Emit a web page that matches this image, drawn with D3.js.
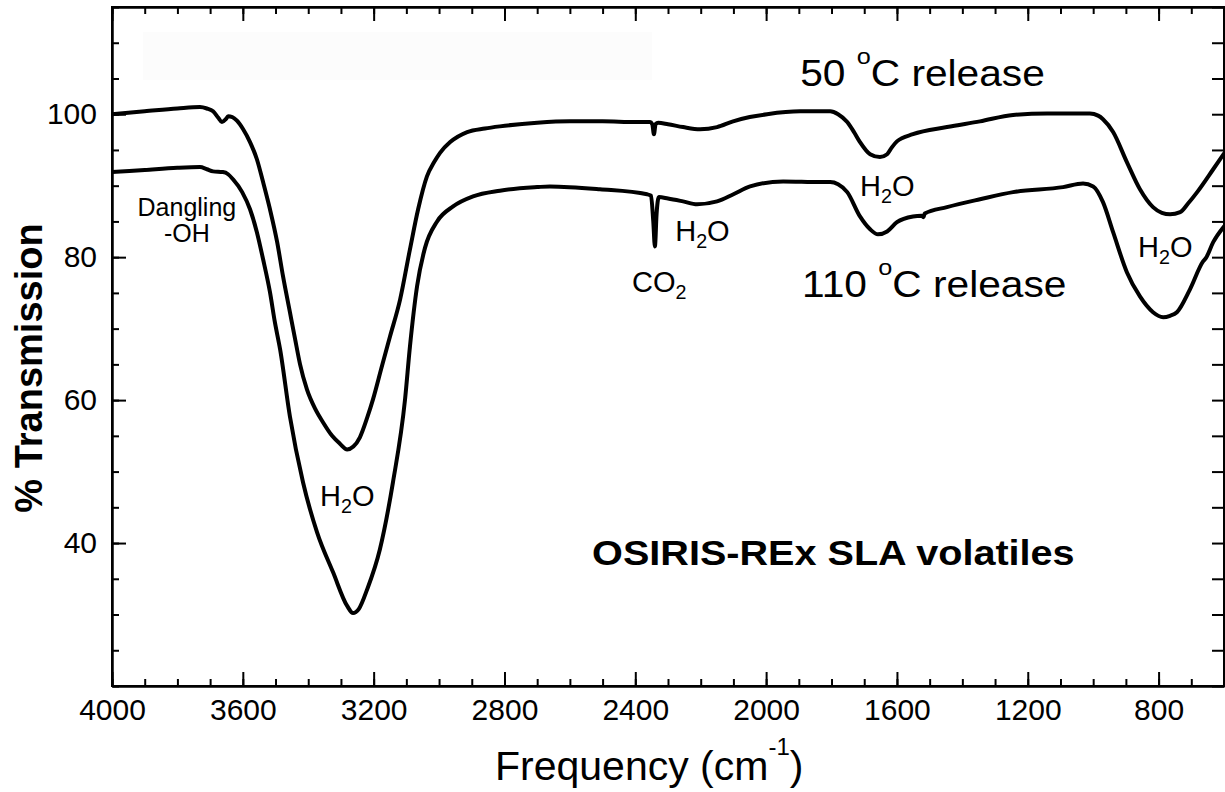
<!DOCTYPE html>
<html>
<head>
<meta charset="utf-8">
<script src="https://cdn.jsdelivr.net/npm/d3@7"></script>
<style>
  html, body { margin: 0; padding: 0; background: #fff; }
  svg { display: block; font-family: "Liberation Sans", Arial, Helvetica, sans-serif; }
  .axis .domain { stroke: #000; stroke-width: 2; }
  .axis .tick line { stroke: #000; stroke-width: 2; }
  .axis .tick text { font-size: 30px; fill: #000; font-family: "Liberation Sans", Arial, sans-serif; }
</style>
</head>
<body>
<svg id="chart" width="1225" height="792"></svg>
<script>
// ---------------- data ----------------
const waveNum50 = [4000, 3900, 3800, 3731, 3710, 3691, 3675, 3664, 3652, 3645, 3632, 3618, 3599, 3578, 3557, 3538, 3517, 3495, 3477, 3456, 3440, 3425, 3404, 3379, 3355, 3327, 3303, 3281, 3262, 3242, 3220, 3202, 3175, 3150, 3119, 3089, 3064, 3037, 3015, 2997, 2966, 2914, 2860, 2814, 2700, 2600, 2500, 2400, 2355, 2348, 2343, 2338, 2330, 2300, 2254, 2202, 2150, 2101, 2050, 1997, 1896, 1835, 1804, 1780, 1752, 1730, 1713, 1682, 1652, 1630, 1615, 1600, 1551, 1447, 1346, 1245, 1141, 1010, 985, 970, 939, 897, 857, 817, 790, 765, 734, 710, 682, 633, 600];
const trans50   = [100.0, 100.4, 100.8, 101.0, 100.8, 100.4, 99.5, 98.9, 99.3, 99.7, 99.6, 99.1, 97.9, 96.1, 93.7, 90.5, 86.7, 82.1, 77.3, 72.3, 68.5, 65.0, 61.5, 58.8, 56.9, 55.0, 53.9, 53.1, 53.5, 54.8, 57.5, 60.1, 64.7, 68.9, 74.1, 81.1, 86.7, 91.3, 93.3, 94.6, 96.1, 97.5, 98.0, 98.3, 98.8, 99.0, 99.0, 98.9, 98.9, 98.6, 97.2, 98.6, 98.8, 98.6, 98.2, 97.9, 98.2, 99.0, 99.6, 100.0, 100.4, 100.4, 100.4, 100.0, 98.9, 97.4, 96.1, 94.4, 94.0, 94.4, 95.4, 96.2, 97.2, 98.2, 99.0, 99.9, 100.1, 100.1, 99.8, 99.3, 97.5, 93.3, 89.5, 87.0, 86.2, 86.0, 86.3, 87.5, 89.1, 92.3, 94.5];

const waveNum110 = [4000, 3900, 3800, 3731, 3710, 3691, 3661, 3645, 3630, 3602, 3578, 3557, 3538, 3517, 3502, 3486, 3456, 3416, 3373, 3324, 3281, 3263, 3245, 3220, 3181, 3141, 3104, 3089, 3067, 3043, 3006, 2957, 2896, 2814, 2700, 2661, 2508, 2364, 2352, 2345, 2340, 2335, 2328, 2300, 2254, 2211, 2150, 2100, 2049, 1948, 1835, 1804, 1780, 1752, 1713, 1682, 1658, 1630, 1600, 1551, 1525, 1519, 1515, 1447, 1346, 1245, 1092, 1031, 1000, 970, 939, 897, 857, 817, 786, 765, 744, 704, 664, 655, 633, 600];
const trans110   = [91.9, 92.2, 92.5, 92.6, 92.3, 92.0, 91.9, 91.6, 90.9, 89.1, 86.7, 83.5, 79.7, 75.1, 70.9, 67.1, 57.7, 48.5, 41.5, 35.9, 31.2, 30.2, 30.8, 33.5, 39.1, 48.5, 60.1, 67.5, 76.0, 81.3, 85.0, 87.1, 88.5, 89.3, 89.8, 89.9, 89.5, 88.8, 88.6, 85.0, 81.5, 86.0, 88.4, 88.2, 87.8, 87.4, 87.8, 88.8, 89.9, 90.6, 90.5, 90.5, 90.2, 89.1, 85.7, 83.9, 83.2, 83.6, 84.9, 85.7, 85.8, 85.6, 86.1, 87.0, 88.1, 89.1, 89.8, 90.3, 89.9, 87.7, 83.5, 77.9, 74.5, 72.3, 71.6, 71.8, 72.3, 75.5, 79.4, 79.9, 82.1, 84.3];

const xMajorTicks = [4000, 3600, 3200, 2800, 2400, 2000, 1600, 1200, 800];
const xMinorTicks = d3.range(4000, 599, -100);
const yMajorTicks = [40, 60, 80, 100];
const yMinorTicks = d3.range(20, 116, 5);

// ---------------- layout ----------------
const svg = d3.select("#chart");
const L = 112, R = 1224, T = 7, B = 686;
const x = d3.scaleLinear().domain([4000, 600]).range([L, R]);
const y = d3.scaleLinear().domain([20, 115]).range([B, T]);

svg.append("rect").attr("width", 1225).attr("height", 792).attr("fill", "#fff");
// faint artefact box seen in the reference
svg.append("rect").attr("x", 143).attr("y", 32).attr("width", 509).attr("height", 48).attr("fill", "#fcfcfc");

svg.append("clipPath").attr("id", "plotclip")
  .append("rect").attr("x", L).attr("y", T).attr("width", R - L).attr("height", B - T);

// ---------------- curves ----------------
const line = d3.line()
  .x(d => x(d[0])).y(d => y(d[1]))
  .curve(d3.curveMonotoneX);

const series = [
  d3.zip(waveNum50, trans50),
  d3.zip(waveNum110, trans110)
];
svg.append("g").attr("clip-path", "url(#plotclip)")
  .selectAll("path").data(series).join("path")
  .attr("d", line)
  .attr("fill", "none")
  .attr("stroke", "#000")
  .attr("stroke-width", 4)
  .attr("stroke-linejoin", "round")
  .attr("stroke-linecap", "round");

// ---------------- axes ----------------
function addAxis(axis, tx, ty) {
  return svg.append("g").attr("class", "axis").attr("transform", `translate(${tx},${ty})`).call(axis);
}
addAxis(d3.axisBottom(x).tickValues(xMinorTicks).tickSize(-7).tickSizeOuter(0).tickFormat(""), 0, B);
addAxis(d3.axisBottom(x).tickValues(xMajorTicks).tickSize(-14).tickSizeOuter(0).tickPadding(13).tickFormat(d3.format("d")), 0, B);
addAxis(d3.axisTop(x).tickValues(xMinorTicks).tickSize(-7).tickSizeOuter(0).tickFormat(""), 0, T);
addAxis(d3.axisTop(x).tickValues(xMajorTicks).tickSize(-14).tickSizeOuter(0).tickFormat(""), 0, T);
addAxis(d3.axisLeft(y).tickValues(yMinorTicks).tickSize(-7).tickSizeOuter(0).tickFormat(""), L, 0);
addAxis(d3.axisLeft(y).tickValues(yMajorTicks).tickSize(-14).tickSizeOuter(0).tickPadding(15).tickFormat(d3.format("d")), L, 0);
addAxis(d3.axisRight(y).tickValues(yMinorTicks).tickSize(-12).tickSizeOuter(0).tickFormat(""), R, 0);
svg.selectAll(".axis .tick text").attr("fill", "#000");
svg.append("rect").attr("x", L).attr("y", T).attr("width", R - L).attr("height", B - T)
  .attr("fill", "none").attr("stroke", "#000").attr("stroke-width", 2);

// ---------------- annotations ----------------
function chem(parent, px, py, parts, size) {
  // parts: [text, "n"|"sub"|"sup"]
  const t = parent.append("text").attr("x", px).attr("y", py)
    .attr("font-size", size).attr("fill", "#000");
  let shift = 0;
  parts.forEach(([s, kind]) => {
    const sp = t.append("tspan").text(s);
    let target = 0, fs = size;
    if (kind === "sub") { target = size * 0.24; fs = size * 0.68; }
    if (kind === "sup") { target = -size * 0.6; fs = size * 0.62; }
    sp.attr("dy", target - shift).attr("font-size", fs);
    shift = target;
  });
  return t;
}

// release labels (slightly wide lettering in reference)
const g50 = svg.append("g").attr("transform", `translate(${x(1896)},${y(103.9)}) scale(1.1,1)`);
chem(g50, 0, 0, [["50 ", "n"], ["o", "sup"], ["C release", "n"]], 37);
const g110 = svg.append("g").attr("transform", `translate(${x(1890)},${y(74.4)}) scale(1.1,1)`);
chem(g110, 0, 0, [["110 ", "n"], ["o", "sup"], ["C release", "n"]], 37);

// band labels
chem(svg, x(3364), y(45.2), [["H", "n"], ["2", "sub"], ["O", "n"]], 29);
chem(svg, x(2278), y(82.2), [["H", "n"], ["2", "sub"], ["O", "n"]], 29);
chem(svg, x(2410), y(75.1), [["CO", "n"], ["2", "sub"]], 29);
chem(svg, x(1713), y(88.5), [["H", "n"], ["2", "sub"], ["O", "n"]], 29);
chem(svg, x(863), y(80.0), [["H", "n"], ["2", "sub"], ["O", "n"]], 29);

svg.append("text").attr("x", x(3771)).attr("y", y(85.7)).attr("text-anchor", "middle")
  .attr("font-size", 25).attr("fill", "#000").text("Dangling");
svg.append("text").attr("x", x(3771)).attr("y", y(82.1)).attr("text-anchor", "middle")
  .attr("font-size", 25).attr("fill", "#000").text("-OH");

svg.append("g").attr("transform", `translate(${x(2532)},${y(36.9)}) scale(1.1,1)`)
  .append("text").attr("font-size", 36).attr("font-weight", "bold").attr("fill", "#000")
  .text("OSIRIS-REx SLA volatiles");

// axis titles
chem(svg, 495, 780, [["Frequency (cm", "n"], ["-1", "sup"], [")", "n"]], 41)
  .selectAll("tspan").filter((d, i) => i === 1).attr("font-size", 24);
svg.append("text")
  .attr("transform", `translate(42,368) rotate(-90)`)
  .attr("text-anchor", "middle")
  .attr("font-size", 38).attr("font-weight", "bold").attr("fill", "#000")
  .text("% Transmission");
</script>
</body>
</html>
